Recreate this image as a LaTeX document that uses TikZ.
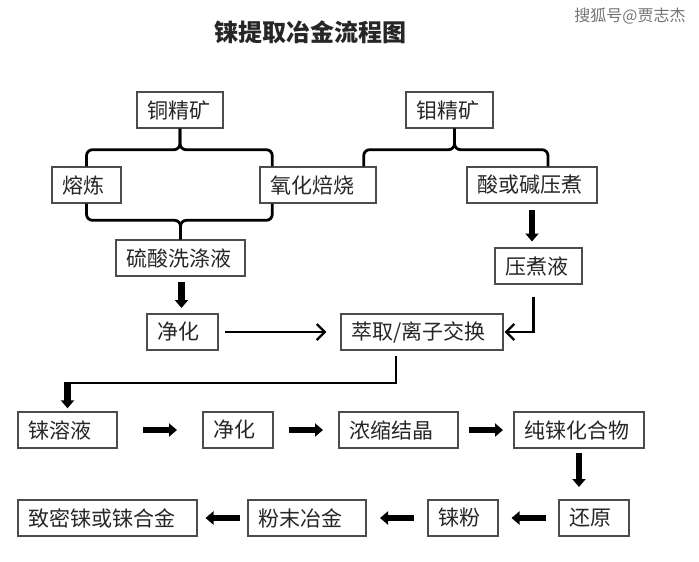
\documentclass[tikz,border=0pt]{standalone}
\usepackage{fontspec}
\newfontfamily\cjk{Noto Sans CJK SC}
\usetikzlibrary{calc,positioning,arrows.meta}

\begin{document}
\begin{tikzpicture}[
            x=0.5pt, y=-0.5pt,
            every node/.append style={font=\cjk\fontsize{10.5}{12}\selectfont, text=black!85},
            stepbox/.style={draw=black!70, line width=0.7pt, minimum height=18pt, inner xsep=5pt, align=left},
            brace/.style={line width=1.4pt, rounded corners=3pt},
            flow/.style={line width=1.1pt, -{Straight Barb[length=4pt,width=8pt]}},
            bigarrow/.style={line width=3.2pt, -{Triangle[length=4pt,width=6.5pt]}}
        ]
            \useasboundingbox (0,0) rectangle (699,561);

            \node[font=\cjk\bfseries\fontsize{12}{14}\selectfont] (title) at (310,32) {铼提取冶金流程图};
            \node[font=\cjk\fontsize{8}{9}\selectfont, text=black!55] (mark) at (630,16) {搜狐号@贾志杰};

            \node[stepbox, text width=33pt]   (tongjk)   at (180,110)   {铜精矿};
            \node[stepbox, text width=33.5pt] (mujk)     at (449.5,110) {钼精矿};
            \node[stepbox, text width=24.5pt] (ronglian) at (86.5,185)  {熔炼};
            \node[stepbox, text width=48pt]   (yanghua)  at (318,185)   {氧化焙烧};
            \node[stepbox, text width=55pt]   (suanjian) at (532,185)   {酸或碱压煮};
            \node[stepbox, text width=54.5pt] (xidi)     at (180.5,258) {硫酸洗涤液};
            \node[stepbox, text width=33.5pt] (yazhu)    at (538.5,266) {压煮液};
            \node[stepbox, text width=25.5pt] (jinghua1) at (182.5,332) {净化};
            \node[stepbox, text width=71pt]   (cuiqu)    at (422,332)   {萃取/离子交换};

            \node[stepbox, text width=39.5pt] (lrongye)  at (67.5,430)  {铼溶液};
            \node[stepbox, text width=25pt]   (jinghua2) at (238,430)   {净化};
            \node[stepbox, text width=49.5pt] (nongsuo)  at (398.5,430) {浓缩结晶};
            \node[stepbox, text width=55pt]   (chun)     at (579,430)   {纯铼化合物};

            \node[stepbox, text width=79.5pt] (zhimi)    at (107.5,518) {致密铼或铼合金};
            \node[stepbox, text width=49pt]   (fenmo)    at (307,518)   {粉末冶金};
            \node[stepbox, text width=25pt]   (lifen)    at (463,518)   {铼粉};
            \node[stepbox, text width=25pt]   (huanyuan) at (594,518)   {还原};

            \coordinate (tb1)  at ($(tongjk.south)+(0,21)$);
            \coordinate (tb2)  at ($(mujk.south)+(5,21)$);
            \coordinate (bb)   at ($(xidi.north)+(0,-19)$);
            \coordinate (drop) at ($(lrongye.north)+(0,-28)$);

            \draw[brace] (ronglian.north) |- (tb1) -- (tongjk.south);
            \draw[brace] ($(yanghua.north west)+(13,0)$) |- (tb1) -- (tongjk.south);
            \draw[brace] ($(yanghua.north east)+(-13,0)$) |- (tb2) -- (tb2 |- mujk.south);
            \draw[brace] ($(suanjian.north)+(16,0)$) |- (tb2) -- (tb2 |- mujk.south);
            \draw[brace] (ronglian.south) |- (bb) -- (xidi.north);
            \draw[brace] ($(yanghua.south west)+(13,0)$) |- (bb) -- (xidi.north);

            \draw[bigarrow] ($(xidi.south)!0.5!(jinghua1.north)+(0,-13)$) -- ++(0,26);
            \draw[bigarrow] ($(suanjian.south)!0.5!(suanjian.south |- yazhu.north)+(0,-16)$) -- ++(0,32);
            \draw[flow, shorten <=3pt, shorten >=7pt] (jinghua1) -- (cuiqu);
            \draw[flow, shorten >=0.5pt] ($(yazhu.south)+(-5,12)$) |- (cuiqu.east);

            \draw[line width=1.1pt] ($(cuiqu.south)+(-26,5)$) |- (drop);
            \draw[bigarrow, shorten >=1.5pt] ($(drop)+(0,-1)$) -- (lrongye.north);

            \foreach \a/\b in {lrongye/jinghua2,jinghua2/nongsuo,nongsuo/chun}
                \draw[bigarrow] ($(\a.east)!0.5!(\b.west)+(-17,0)$) -- ($(\a.east)!0.5!(\b.west)+(17,0)$);
            \draw[bigarrow] ($(chun.south)!0.5!(chun.south |- huanyuan.north)+(0,-21)$) -- ++(0,34);
            \foreach \a/\b in {huanyuan/lifen,lifen/fenmo,fenmo/zhimi}
                \draw[bigarrow] ($(\a.west)!0.5!(\b.east)+(17,0)$) -- ($(\a.west)!0.5!(\b.east)+(-17,0)$);
        \end{tikzpicture}
\end{document}
